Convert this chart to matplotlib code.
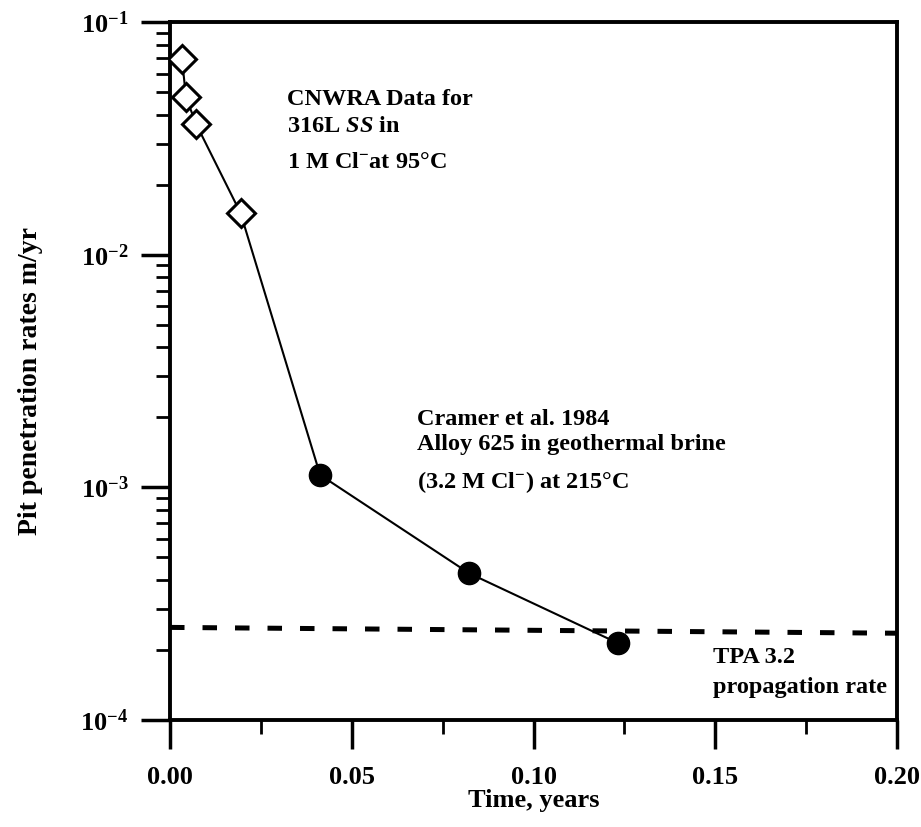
import matplotlib
matplotlib.use('Agg')
import matplotlib.pyplot as plt
from matplotlib.ticker import FixedLocator, NullFormatter

# Data
cnwra_time = [0.0033, 0.0044, 0.0072, 0.0194]
cnwra_rate = [0.0692, 0.0474, 0.0364, 0.0151]
cramer_time = [0.0413, 0.0823, 0.1232]
cramer_rate = [0.00113, 0.000427, 0.000214]
tpa_time = [0.0, 0.20]
tpa_rate = [2.50e-4, 2.36e-4]

x_ticks = [0.00, 0.05, 0.10, 0.15, 0.20]
x_ticklabels = ['0.00', '0.05', '0.10', '0.15', '0.20']
x_minor = [0.025, 0.075, 0.125, 0.175]
y_ticks = [1e-4, 1e-3, 1e-2, 1e-1]
y_ticklabels = [r'$\mathbf{10^{-4}}$', r'$\mathbf{10^{-3}}$',
                r'$\mathbf{10^{-2}}$', r'$\mathbf{10^{-1}}$']

# Serif bold everywhere, like the scanned original
plt.rcParams['font.family'] = ['Liberation Serif', 'DejaVu Serif']
plt.rcParams['font.weight'] = 'bold'
plt.rcParams['mathtext.fontset'] = 'custom'
plt.rcParams['mathtext.rm'] = 'Liberation Serif:bold'
plt.rcParams['mathtext.bf'] = 'Liberation Serif:bold'
plt.rcParams['mathtext.it'] = 'Liberation Serif:bold:italic'

fig = plt.figure(figsize=(9.21, 8.27), dpi=100)
ax = fig.add_axes([0.1846, 0.1294, 0.7894, 0.8440])

# One line through all seven points, then the markers on top
all_time = cnwra_time + cramer_time
all_rate = cnwra_rate + cramer_rate
ax.plot(all_time, all_rate, c='k', lw=1.5, zorder=2)
ax.plot(cnwra_time, cnwra_rate, ls='none', marker='D', ms=14.5,
        mfc='white', mec='k', mew=2.2, zorder=3)
ax.plot(cramer_time, cramer_rate, ls='none', marker='o', ms=16,
        mfc='k', mec='k', zorder=3)

# TPA 3.2 propagation rate
ax.plot(tpa_time, tpa_rate, c='k', lw=3.6, dashes=(2.9, 3.6), zorder=2)

ax.set_yscale('log')
ax.set_xlim(0, 0.20)
ax.set_ylim(1e-4, 1e-1)

ax.set_xticks(x_ticks)
ax.set_xticklabels(x_ticklabels)
ax.xaxis.set_minor_locator(FixedLocator(x_minor))
ax.set_yticks(y_ticks)
ax.set_yticklabels(y_ticklabels)
ax.yaxis.set_minor_formatter(NullFormatter())

ax.tick_params(axis='both', which='major', direction='out', length=21,
               width=2.5, labelsize=19, top=False, right=False)
ax.tick_params(axis='x', which='major', pad=12)
ax.tick_params(axis='y', which='major', pad=9)
ax.tick_params(axis='both', which='minor', direction='out', length=10,
               width=2.0, top=False, right=False)
for side in ['left', 'right', 'top', 'bottom']:
    ax.spines[side].set_linewidth(2.8)

ax.set_xlabel('Time, years', fontsize=19, fontweight='bold', labelpad=0)
ax.set_ylabel('Pit penetration rates m/yr', fontsize=20, fontweight='bold')
ax.yaxis.set_label_coords(-0.175, 0.486)

# Annotations
tr = ax.transAxes
fs = 17.5
ax.text(0.161, 0.881, 'CNWRA Data for', transform=tr, fontsize=fs,
        fontweight='bold', va='baseline')
ax.text(0.161, 0.843, r'316L $\mathit{SS}$ in', transform=tr,
        fontsize=fs, fontweight='bold', va='baseline')
ax.text(0.161, 0.791, '1 M Cl$^{-}$at 95°C', transform=tr, fontsize=fs,
        fontweight='bold', va='baseline')

ax.text(0.340, 0.4226, 'Cramer et al. 1984', transform=tr, fontsize=fs,
        fontweight='bold', va='baseline')
ax.text(0.340, 0.3868, 'Alloy 625 in geothermal brine', transform=tr,
        fontsize=fs, fontweight='bold', va='baseline')
ax.text(0.340, 0.3324, '(3.2 M Cl$^{-}$) at 215°C', transform=tr,
        fontsize=fs, fontweight='bold', va='baseline')

ax.text(0.747, 0.0817, 'TPA 3.2', transform=tr, fontsize=fs,
        fontweight='bold', va='baseline')
ax.text(0.747, 0.0387, 'propagation rate', transform=tr, fontsize=fs,
        fontweight='bold', va='baseline')

plt.savefig('out.png', dpi=100)
plt.close(fig)
